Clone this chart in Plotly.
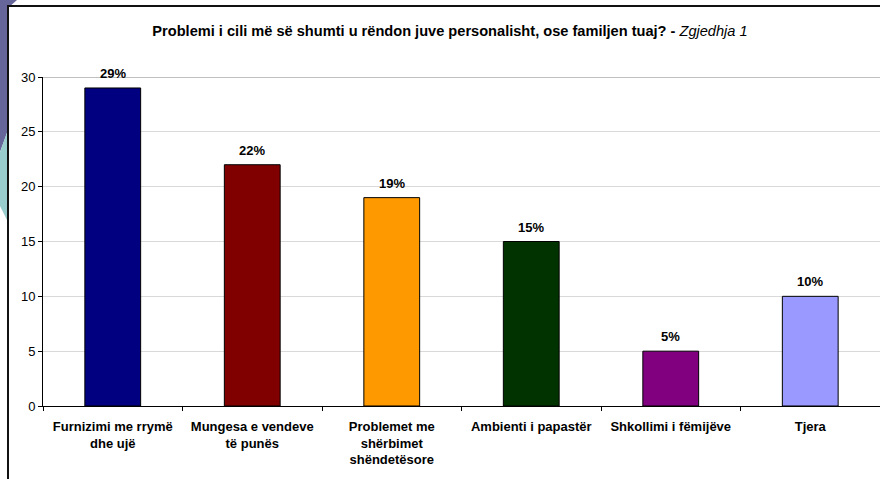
import plotly.graph_objects as go

categories = [
    "Furnizimi me rrymë<br>dhe ujë",
    "Mungesa e vendeve<br>të punës",
    "Problemet me<br>shërbimet<br>shëndetësore",
    "Ambienti i papastër",
    "Shkollimi i fëmijëve",
    "Tjera",
]
values = [29, 22, 19, 15, 5, 10]
labels = ["29%", "22%", "19%", "15%", "5%", "10%"]
colors = ["#000080", "#800000", "#FF9900", "#003300", "#800080", "#9999FF"]
y_ticks = [0, 5, 10, 15, 20, 25, 30]

W, H = 880, 479
L, R, T, B = 43, 0, 77, 73
PW, PH = W - L - R, H - T - B


def px(x):
    return (x - L) / PW


def py(y):
    return (H - B - y) / PH


FONT = "Liberation Sans, Arial, sans-serif"

fig = go.Figure()
fig.add_trace(go.Bar(
    x=categories, y=values,
    marker=dict(color=colors, line=dict(color="#000000", width=1)),
    width=0.4,
    hoverinfo="skip",
))

for c, v, t in zip(categories, values, labels):
    fig.add_annotation(x=c, y=v, text="<b>" + t + "</b>", showarrow=False,
                       yanchor="bottom", yshift=5,
                       font=dict(family=FONT, size=13, color="#000000"))

shapes = []
# decorative background shapes
shapes.append(dict(type="path", xref="paper", yref="paper", layer="below",
                   path=f"M {px(0)},{py(0)} L {px(17)},{py(0)} L {px(8)},{py(8)} L {px(8)},{py(130)} L {px(0)},{py(152)} Z",
                   fillcolor="#66669A", line=dict(width=0)))
shapes.append(dict(type="path", xref="paper", yref="paper", layer="below",
                   path=f"M {px(0)},{py(152)} L {px(8)},{py(130)} L {px(8)},{py(222)} L {px(0)},{py(206)} Z",
                   fillcolor="#99CCCC", line=dict(width=0)))
# chart box
shapes.append(dict(type="rect", xref="paper", yref="paper", layer="below",
                   x0=px(8), y0=py(500), x1=px(900), y1=py(6),
                   fillcolor="#FFFFFF", line=dict(color="#111111", width=2)))
# top border of plot area at 30
shapes.append(dict(type="line", xref="paper", yref="y", layer="below",
                   x0=0, x1=1, y0=30, y1=30, line=dict(color="#808080", width=1)))

fig.update_layout(
    width=W, height=H,
    margin=dict(l=L, r=R, t=T, b=B, autoexpand=False),
    paper_bgcolor="#FFFFFF", plot_bgcolor="rgba(0,0,0,0)",
    showlegend=False,
    bargap=0.6,
    shapes=shapes,
    font=dict(family=FONT, size=13, color="#000000"),
    title=dict(
        text="<b>Problemi i cili më së shumti u rëndon juve personalisht, ose familjen tuaj? - </b><i>Zgjedhja 1</i>",
        x=px(450), xanchor="center", xref="paper",
        y=1 - 31 / H, yanchor="middle", yref="container",
        font=dict(family=FONT, size=14.6, color="#000000"),
    ),
    xaxis=dict(
        type="category", automargin=False,
        showline=True, linecolor="#000000", linewidth=1,
        ticks="outside", tickson="boundaries", ticklen=4, tickcolor="#000000",
        showgrid=False,
        tickfont=dict(family=FONT, size=13, color="#000000", weight="bold"),
        ticklabelstandoff=8,
        fixedrange=True,
    ),
    yaxis=dict(
        range=[0, 30], tickvals=y_ticks, automargin=False,
        showline=True, linecolor="#000000", linewidth=1,
        ticks="outside", ticklen=4, tickcolor="#000000",
        showgrid=True, gridcolor="#D9D9D9", gridwidth=1,
        zeroline=False,
        tickfont=dict(family=FONT, size=13, color="#000000"),
        fixedrange=True,
    ),
)

fig.write_html(
    "out.html",
    config={"displayModeBar": False},
    post_script="document.body.style.margin='0';document.body.style.overflow='hidden';",
)
